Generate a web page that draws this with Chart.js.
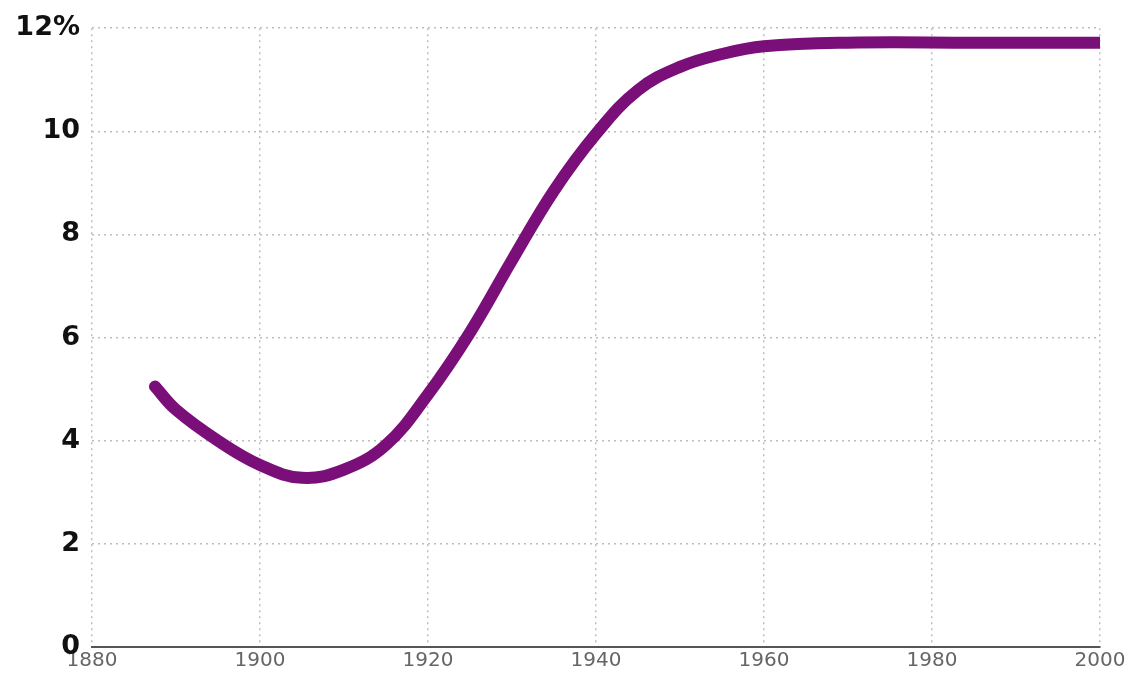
<!DOCTYPE html>
<html>
<head>
<meta charset="utf-8">
<script src="https://cdn.jsdelivr.net/npm/chart.js@4"></script>
<style>
  html, body { margin: 0; padding: 0; background: #fff; }
  #wrap { width: 1134px; height: 683px; }
</style>
</head>
<body>
<div id="wrap"><canvas id="grafico" width="1134" height="683"></canvas></div>
<script>
// years and percent values
const years = [1887.5, 1890, 1895, 1900, 1905, 1910, 1915, 1920, 1925, 1930, 1935, 1940, 1945, 1950, 1955, 1960, 1970, 1985, 2000];
const values = [5.05, 4.6, 4.0, 3.53, 3.28, 3.44, 3.92, 4.9, 6.1, 7.5, 8.85, 9.95, 10.8, 11.25, 11.5, 11.65, 11.72, 11.72, 11.72];
const xTicks = [1880, 1900, 1920, 1940, 1960, 1980, 2000];
const yTicks = [0, 2, 4, 6, 8, 10, 12];

const puntos = years.map((y, i) => ({ x: y, y: values[i] }));

const ctx = document.getElementById('grafico').getContext('2d');
new Chart(ctx, {
  type: 'line',
  data: {
    datasets: [{
      data: puntos,
      borderColor: '#7b0f79',
      borderWidth: 12,
      borderCapStyle: 'round',
      borderJoinStyle: 'round',
      pointRadius: 0,
      tension: 0.4,
      fill: false
    }]
  },
  options: {
    responsive: false,
    animation: false,
    layout: { padding: { top: 28, right: 34, left: 0, bottom: 0 } },
    plugins: {
      legend: { display: false },
      tooltip: { enabled: false }
    },
    scales: {
      x: {
        type: 'linear',
        min: xTicks[0],
        max: xTicks[xTicks.length - 1],
        afterBuildTicks: s => { s.ticks = xTicks.map(v => ({ value: v })); },
        afterFit: s => { s.height = 36; },
        ticks: {
          callback: v => String(v),
          color: '#666',
          padding: 2,
          maxRotation: 0,
          font: { family: 'DejaVu Sans', size: 20 }
        },
        grid: {
          color: '#bdbdbd',
          lineWidth: 1.5,
          drawTicks: false
        },
        border: { display: true, color: '#555', width: 2, dash: [2, 4] }
      },
      y: {
        min: yTicks[0],
        max: yTicks[yTicks.length - 1],
        afterBuildTicks: s => { s.ticks = yTicks.map(v => ({ value: v })); },
        afterFit: s => { s.width = 92; },
        ticks: {
          callback: v => v === 12 ? '12%' : String(v),
          color: '#111',
          padding: 12,
          font: { family: 'DejaVu Sans', size: 27, weight: 'bold' }
        },
        grid: {
          color: '#bdbdbd',
          lineWidth: 1.5,
          drawTicks: false
        },
        border: { display: false, dash: [2, 4] }
      }
    }
  }
});
</script>
</body>
</html>
